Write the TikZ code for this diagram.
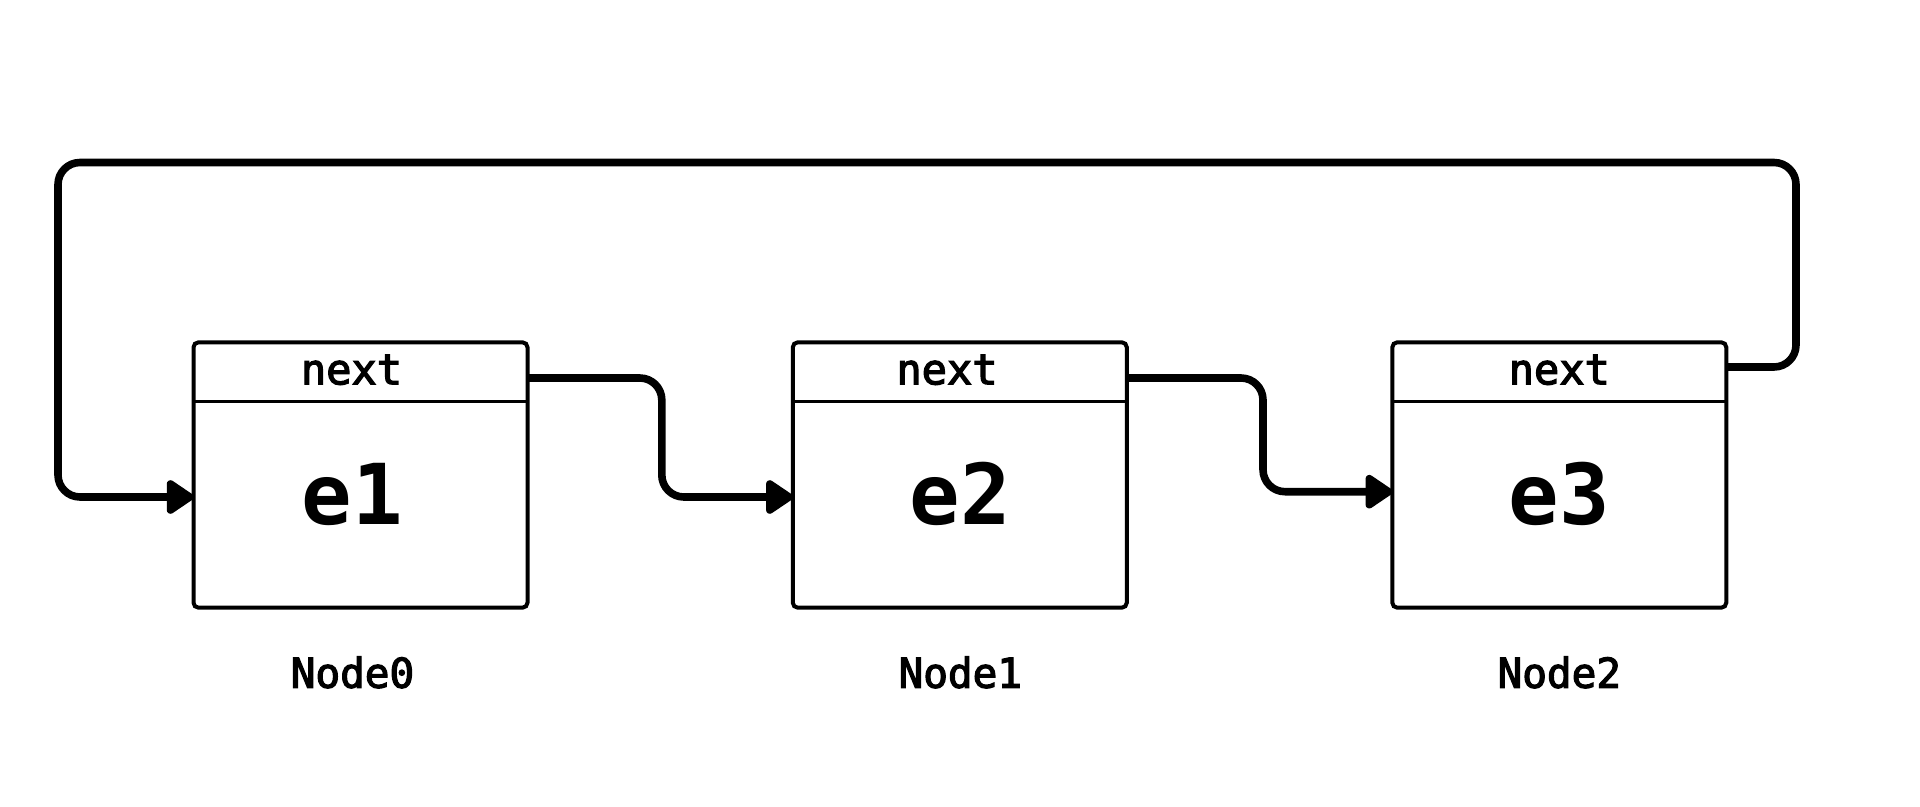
\documentclass[tikz,border=0pt]{standalone}
\usepackage{fontspec}
\usetikzlibrary{arrows.meta,calc}
\newfontfamily\monof[FakeBold=3]{DejaVu Sans Mono}
\newfontfamily\monob{DejaVu Sans Mono Bold}
\tikzset{
  cell/.style={draw, line width=2pt, rounded corners=2.5pt, minimum width=167pt, minimum height=132.7pt, inner sep=0pt, outer sep=0pt},
  hdr/.style={font=\monof\fontsize{21pt}{24pt}\selectfont, inner sep=0pt, anchor=base},
  val/.style={font=\monob\fontsize{42pt}{48pt}\selectfont, inner sep=0pt, anchor=base},
  lbl/.style={font=\monof\fontsize{20.5pt}{24pt}\selectfont, inner sep=0pt, anchor=base},
  link/.style={line width=3.8pt, rounded corners=11pt, line join=round, -{Triangle[length=15pt,width=19pt,round]}},
}
\begin{document}
\begin{tikzpicture}[x=0.5pt,y=-0.5pt]
\useasboundingbox (0,0) rectangle (1920,807);
\foreach \i/\cx/\tx/\hx/\v in {0/360.5/352.5/351.5/e1,1/959.8/960.3/947/e2,2/1559.3/1559.3/1559.3/e3}{
  \node[cell] (box\i) at (\cx,475) {};
  \draw[line width=1.7pt] (box\i.west |- 0,401.7) -- (box\i.east |- 0,401.7);
  \node[hdr] (hdr\i) at (\hx,384.3) {next};
  \node[val] (val\i) at (\tx,524) {\v};
  \node[lbl] (lbl\i) at (\tx,687.7) {Node\i};
}
\coordinate (s0) at (box0.east |- 0,378);
\coordinate (t1) at (box1.west |- 0,497);
\coordinate (s1) at (box1.east |- 0,378);
\coordinate (t2) at (box2.west |- 0,491.7);
\coordinate (s2) at (box2.east |- 0,367);
\coordinate (t0) at (box0.west |- 0,497);
\draw[link] (s0) -- (661.8,378) -- (661.8,497) -- (t1);
\draw[link] (s1) -- (1263,378) -- (1263,491.7) -- (t2);
\draw[link] (s2) -- (1796,367) -- (1796,162.5) -- (58,162.5) -- (58,497) -- (t0);
\end{tikzpicture}
\end{document}
